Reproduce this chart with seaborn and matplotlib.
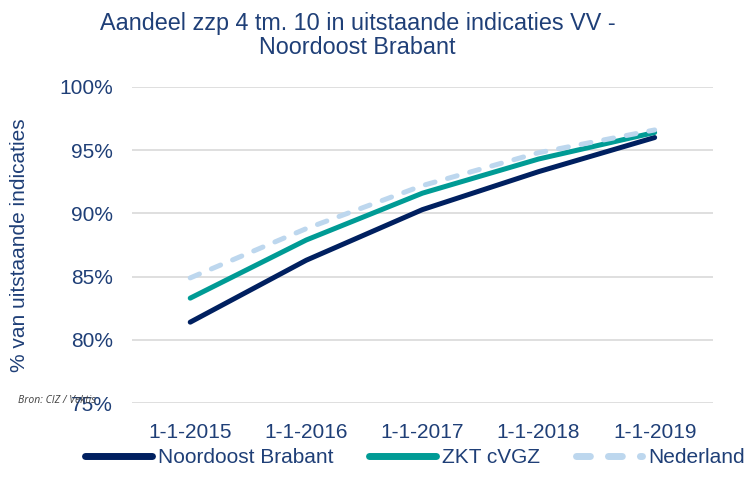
import pandas as pd
import seaborn as sns
import matplotlib.pyplot as plt
from matplotlib.ticker import PercentFormatter

# Data
dates = ['1-1-2015', '1-1-2016', '1-1-2017', '1-1-2018', '1-1-2019']
noordoost_brabant = [0.814, 0.863, 0.903, 0.933, 0.960]
zkt_cvgz = [0.833, 0.879, 0.916, 0.943, 0.964]
nederland = [0.849, 0.888, 0.922, 0.948, 0.966]

series_names = ['Noordoost Brabant', 'ZKT cVGZ', 'Nederland']

df = pd.DataFrame({
    'datum': dates * 3,
    'aandeel': noordoost_brabant + zkt_cvgz + nederland,
    'regio': [n for n in series_names for _ in dates],
})

text_color = '#1F3F77'
colors = {'Noordoost Brabant': '#002060', 'ZKT cVGZ': '#009B95', 'Nederland': '#BDD7EE'}
dashes = {'Noordoost Brabant': '', 'ZKT cVGZ': '', 'Nederland': (2, 2.6)}

sns.set_style('white')
plt.rcParams['font.family'] = ['Liberation Sans', 'DejaVu Sans']

fig = plt.figure(figsize=(7.51, 4.94), dpi=100)
ax = fig.add_axes([0.176, 0.184, 0.773, 0.640])

sns.lineplot(
    data=df, x='datum', y='aandeel', hue='regio', style='regio',
    palette=colors, dashes=dashes, linewidth=3.6, ax=ax, sort=False
)

for line in ax.get_lines():
    line.set_solid_capstyle('round')
    line.set_dash_capstyle('round')

ax.set_ylim(0.75, 1.0)
ax.set_yticks([0.75, 0.80, 0.85, 0.90, 0.95, 1.00])
ax.yaxis.set_major_formatter(PercentFormatter(1.0, decimals=0))
ax.set_xlim(-0.5, 4.5)
ax.grid(axis='y', color='#D9D9D9', linewidth=1.2)
ax.set_axisbelow(True)
for s in ax.spines.values():
    s.set_visible(False)
ax.tick_params(axis='both', length=0, labelsize=15, labelcolor=text_color)
ax.tick_params(axis='y', pad=14)
ax.tick_params(axis='x', pad=14)

ax.set_xlabel('')
ax.set_ylabel('% van uitstaande indicaties', fontsize=15, color=text_color)
ax.yaxis.set_label_coords(-0.178, 0.5)

fig.text(0.476, 0.975, 'Aandeel zzp 4 tm. 10 in uitstaande indicaties VV -\nNoordoost Brabant',
         ha='center', va='top', fontsize=16.8, color=text_color, linespacing=1.05)

fig.text(0.024, 0.185, 'Bron: CIZ / Vektis', fontsize=7.5, style='italic', color='#404040',
         family=['Open Sans', 'DejaVu Sans'])

handles, labels = ax.get_legend_handles_labels()
for h in handles:
    h.set_linewidth(5)
    h.set_solid_capstyle('round')
    h.set_dash_capstyle('round')
ax.get_legend().remove()
leg = fig.legend(handles, labels, loc='center', bbox_to_anchor=(0.553, 0.073), ncol=3,
                 frameon=False, fontsize=15, handlelength=3.2, handletextpad=0.3,
                 columnspacing=1.7)
for t in leg.get_texts():
    t.set_color(text_color)

fig.savefig('out.png', dpi=100)
